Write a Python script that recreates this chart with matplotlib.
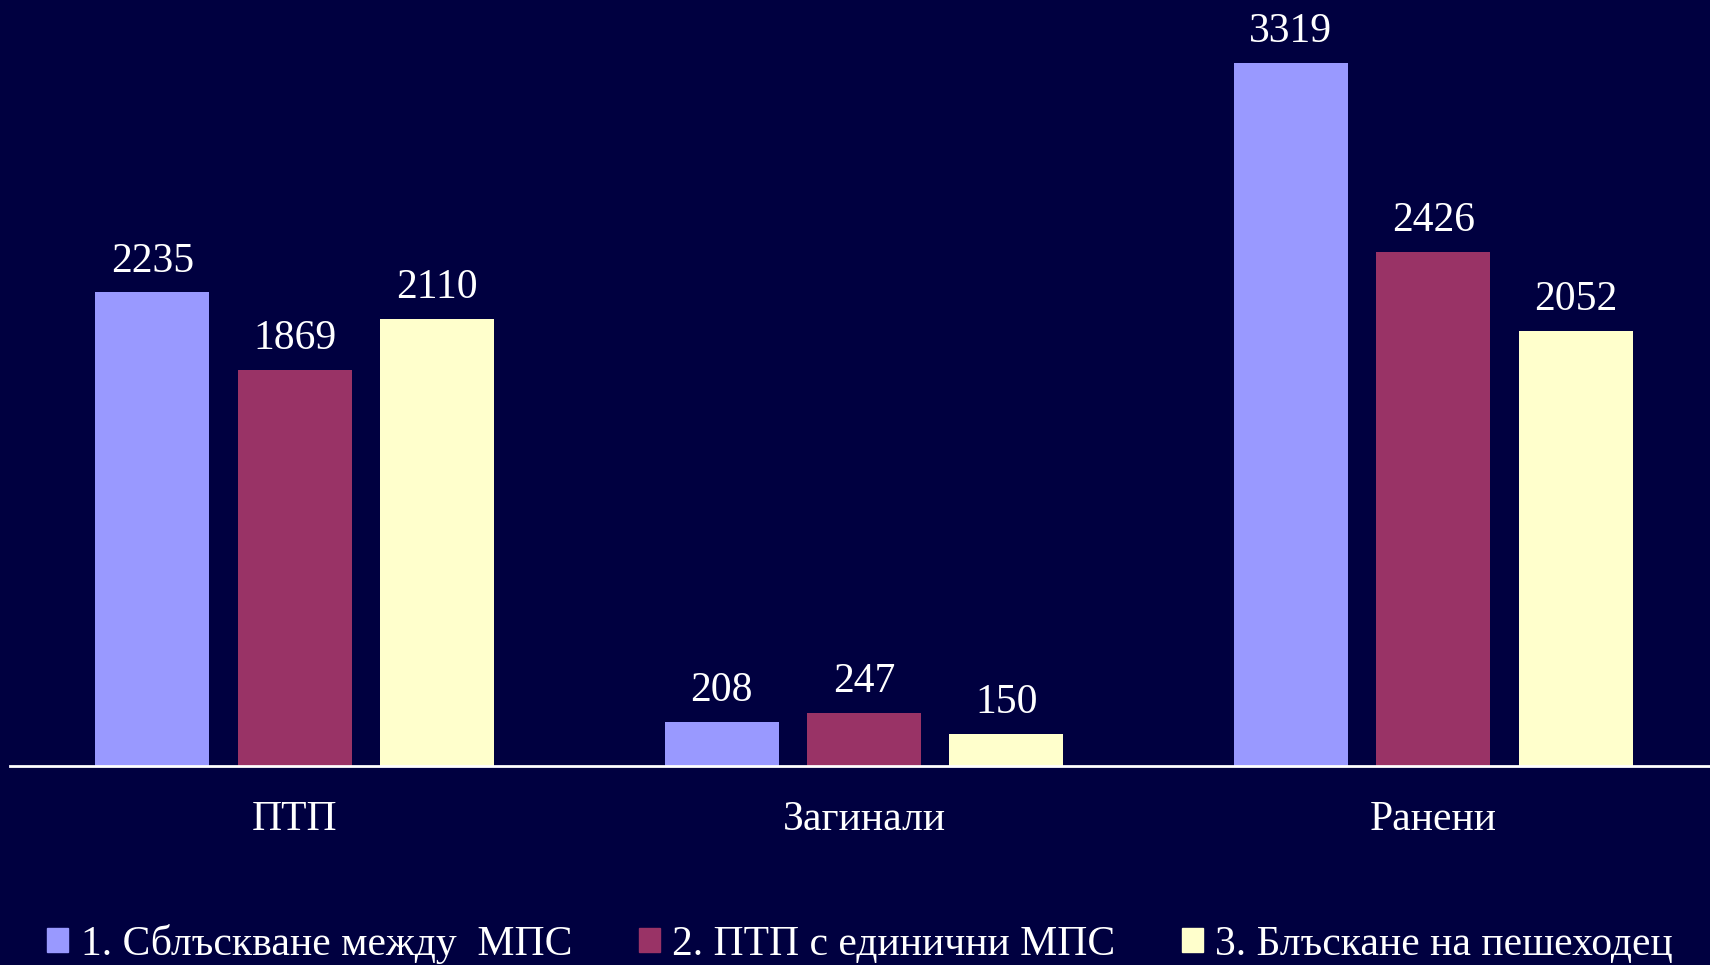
import numpy as np
import matplotlib.pyplot as plt
from matplotlib.patches import Patch

categories = ['ПТП', 'Загинали', 'Ранени']
series_names = ['1. Сблъскване между  МПС', '2. ПТП с единични МПС', '3. Блъскане на пешеходец']
collisions = [2235, 208, 3319]
single = [1869, 247, 2426]
pedestrian = [2110, 150, 2052]

colors = ['#9999FF', '#993366', '#FFFFCC']
bg = '#000040'

plt.rcParams['font.family'] = ['Liberation Serif', 'DejaVu Serif']

fig = plt.figure(figsize=(17.1, 9.65), dpi=100, facecolor=bg)
ax = fig.add_axes([10/1710, (965-765.6)/965, 1700/1710, 765.6/965])
ax.set_facecolor(bg)

x = np.arange(len(categories))
w = 0.2
for i, (vals, c, name) in enumerate(zip([collisions, single, pedestrian], colors, series_names)):
    bars = ax.bar(x + (i-1)*0.25, vals, w, color=c, label=name)
    ax.bar_label(bars, padding=8.5, color='white', fontsize=30)

ax.set_xlim(-0.5, 2.486)
ax.set_ylim(0, 3616)
ax.set_xticks(x)
ax.set_xticklabels(categories, color='white', fontsize=30)
ax.tick_params(axis='x', length=0, pad=25)
ax.set_yticks([])
for s in ['top', 'right', 'left']:
    ax.spines[s].set_visible(False)
ax.spines['bottom'].set_color('white')
ax.spines['bottom'].set_linewidth(2)

handles = [Patch(color=c) for c in colors]
leg = fig.legend(handles, series_names, loc='center', bbox_to_anchor=(0.503, 1-944/965),
                 ncol=3, frameon=False, fontsize=30, labelcolor='white',
                 handlelength=0.5, handleheight=0.5, handletextpad=0.3, columnspacing=1.6)

fig.savefig('out.png', dpi=100, facecolor=bg)
